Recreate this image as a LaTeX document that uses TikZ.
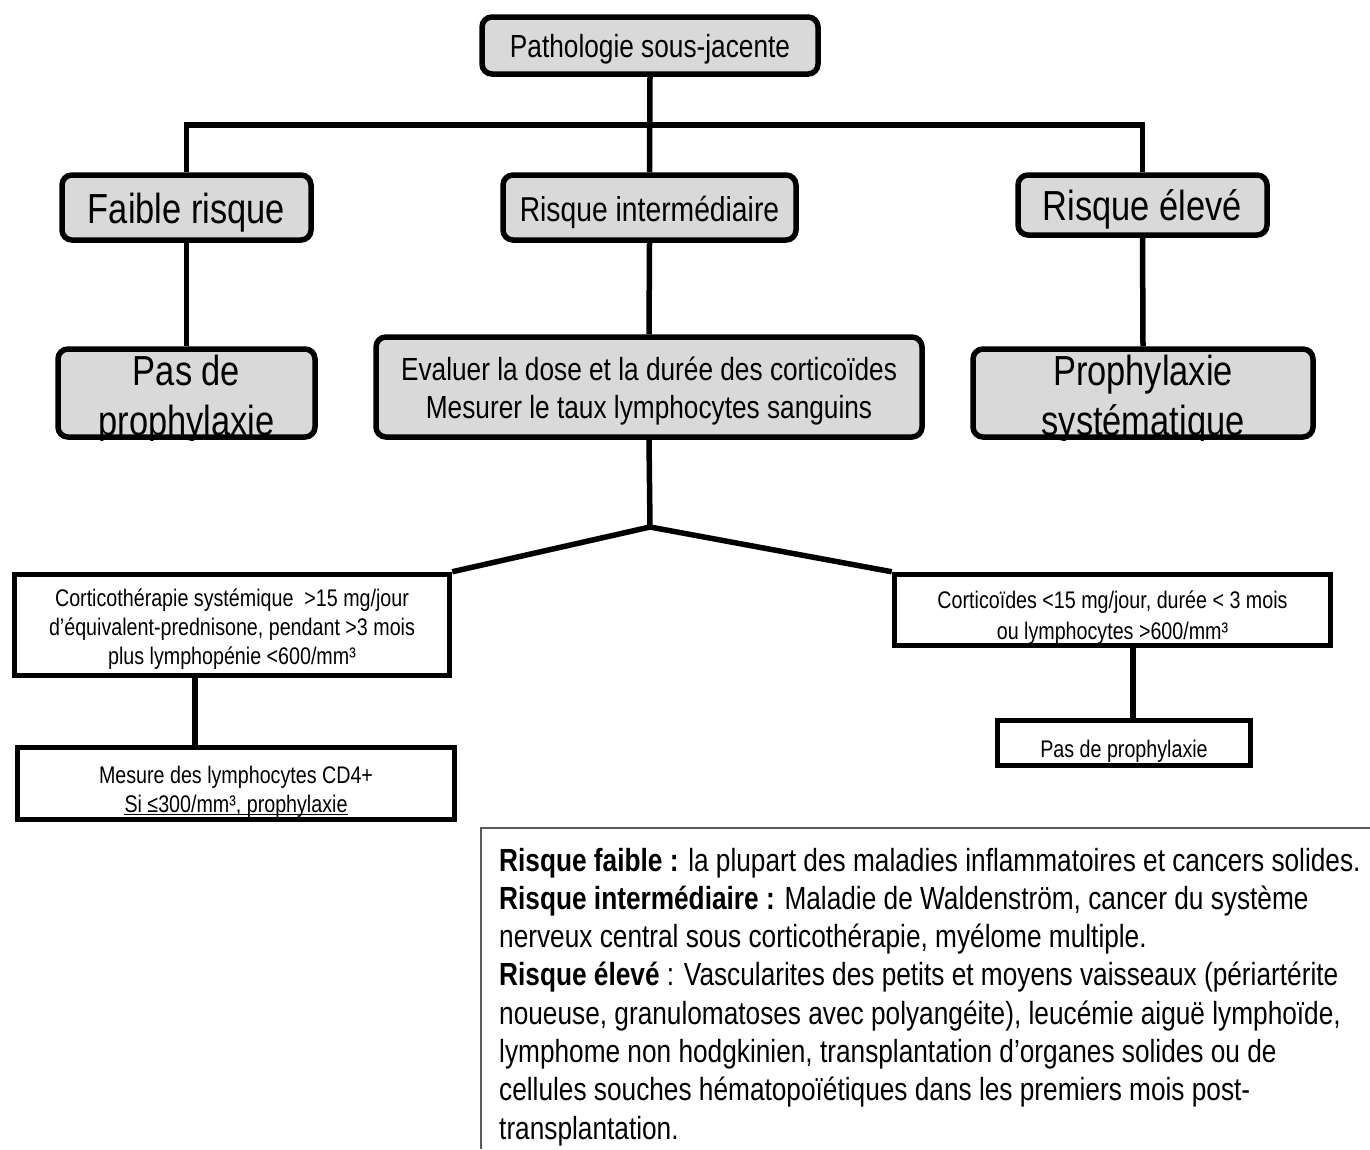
\documentclass[tikz,border=0pt]{standalone}
\usepackage{fontspec}
\setmainfont{Liberation Sans}[FakeStretch=0.82]
\definecolor{boxgray}{RGB}{217,217,217}
\definecolor{leggray}{RGB}{90,90,90}
\tikzset{
  gbox/.style={draw=black, line width=5.5pt, fill=boxgray, rounded corners=10pt, inner sep=0pt},
  wbox/.style={draw=black, line width=5.5pt, fill=white, inner sep=0pt},
  conn/.style={draw=black, line width=5.5pt},
  fmed/.style={font=\fontsize{32}{38.4}\selectfont},
  fbig/.style={font=\fontsize{42}{50}\selectfont},
  fsmall/.style={font=\fontsize{24}{29}\selectfont},
  ctxt/.style={inner sep=0pt, align=center},
  txt/.style={inner sep=0pt, anchor=base},
  legtxt/.style={font=\fontsize{32}{38.3}\selectfont, inner sep=0pt, anchor=base west},
  legline/.style={draw=leggray, line width=1.5pt},
}
\begin{document}
\begin{tikzpicture}[x=1pt,y=-1pt]
\useasboundingbox (0,0) rectangle (1370,1149);

% grey rounded boxes
\node[gbox, minimum width=336pt, minimum height=57pt] (top) at (650,45.5) {};
\node[ctxt, fmed] (topt) at (650,49.5) {Pathologie sous-jacente};
\node[gbox, minimum width=249pt, minimum height=65pt] (faible) at (186.5,207.5) {};
\node[ctxt, fbig] (faiblet) at (186.5,212.5) {Faible risque};
\node[gbox, minimum width=293pt, minimum height=65pt] (inter) at (649.5,207.5) {};
\node[ctxt, font=\fontsize{34.5}{41}\selectfont] (intert) at (649.5,212.5) {Risque intermédiaire};
\node[gbox, minimum width=249pt, minimum height=60pt] (eleve) at (1142.5,205) {};
\node[ctxt, fbig] (elevet) at (1142.5,209) {Risque élevé};
\node[gbox, minimum width=257pt, minimum height=88pt] (pas1) at (186.5,393) {};
\node[gbox, minimum width=546pt, minimum height=100pt] (eval) at (649,387) {};
\node[ctxt, fmed] (evalt) at (649,391)
  {Evaluer la dose et la durée des corticoïdes\\Mesurer le taux lymphocytes sanguins};
\node[gbox, minimum width=340pt, minimum height=88pt] (proph) at (1143,393) {};

\begin{scope}
  \clip (55,346) rectangle (318,440);
  \node[txt, fbig] (pas1a) at (186.5,385) {Pas de};
  \node[txt, fbig] (pas1b) at (186.5,435) {prophylaxie};
\end{scope}
\begin{scope}
  \clip (970,346) rectangle (1316,440);
  \node[txt, fbig] (propha) at (1143,385) {Prophylaxie};
  \node[txt, fbig] (prophb) at (1143,435) {systématique};
\end{scope}

% white boxes
\node[wbox, minimum width=435pt, minimum height=101pt] (left) at (232,625) {};
\node[ctxt, fsmall] (leftt) at (232,629)
  {Corticothérapie systémique\ \ >15 mg/jour\\d’équivalent-prednisone, pendant >3 mois\\plus lymphopénie <600/mm³};
\node[wbox, minimum width=436pt, minimum height=71pt] (right) at (1112.5,610) {};
\node[ctxt, font=\fontsize{24}{30.5}\selectfont] (rightt) at (1112.5,617.5)
  {Corticoïdes <15 mg/jour, durée < 3 mois\\ou lymphocytes >600/mm³};
\node[wbox, minimum width=437pt, minimum height=72pt] (mesure) at (236,783.5) {};
\node[wbox, minimum width=253pt, minimum height=45pt] (pas2) at (1124,743) {};
\node[ctxt, fsmall] (pas2t) at (1124,751) {Pas de prophylaxie};

\begin{scope}
  \clip (15,745) rectangle (457,817.5);
  \node[txt, fsmall] (mes1) at (236,783) {Mesure des lymphocytes CD4+};
  \node[txt, fsmall] (mes2) at (236,812) {Si ≤300/mm³, prophylaxie};
  \draw[line width=1.2pt] ([yshift=-2.5pt]mes2.base west) -- ([yshift=-2.5pt]mes2.base east);
\end{scope}

% connectors
\coordinate (bar) at (650,125);
\coordinate (fork) at (650,527);
\draw[conn] (top.south) -- (inter.north);
\draw[conn] (faible.north) |- (bar) -| (eleve.north);
\draw[conn] (faible.south) -- (pas1.north);
\draw[conn] (inter.south) -- (eval.north);
\draw[conn] (eleve.south) -- (proph.north);
\draw[conn] (eval.south) -- (fork);
\draw[conn] (fork) -- (left.north east);
\draw[conn] (fork) -- (right.north west);
\draw[conn] (195,0 |- left.south) -- (195,0 |- mesure.north);
\draw[conn] (1133,0 |- right.south) -- (1133,0 |- pas2.north);

% legend
\draw[legline] (480,828) -- (1370,828);
\draw[legline] (481,828) -- (481,1149);
\node[legtxt] (leg1) at (499,871) {\textbf{Risque faible :} la plupart des maladies inflammatoires et cancers solides.};
\node[legtxt] (leg2) at (499,909.3) {\textbf{Risque intermédiaire :} Maladie de Waldenström, cancer du système};
\node[legtxt] (leg3) at (499,947.6) {nerveux central sous corticothérapie, myélome multiple.};
\node[legtxt] (leg4) at (499,985.9) {\textbf{Risque élevé} : Vascularites des petits et moyens vaisseaux (périartérite};
\node[legtxt] (leg5) at (499,1024.2) {noueuse, granulomatoses avec polyangéite), leucémie aiguë lymphoïde,};
\node[legtxt] (leg6) at (499,1062.5) {lymphome non hodgkinien, transplantation d’organes solides ou de};
\node[legtxt] (leg7) at (499,1100.8) {cellules souches hématopoïétiques dans les premiers mois post-};
\node[legtxt] (leg8) at (499,1139.1) {transplantation.};
\end{tikzpicture}
\end{document}
